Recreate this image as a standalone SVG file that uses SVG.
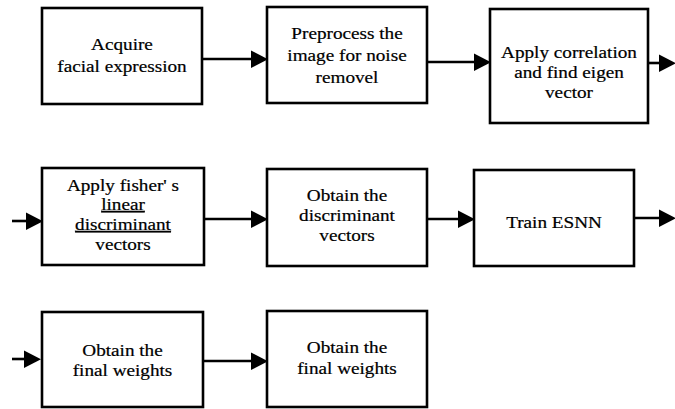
<svg xmlns="http://www.w3.org/2000/svg" width="675" height="409" viewBox="0 0 675 409">
<style>
.box{fill:#fff;stroke:#000;stroke-width:2.6}
.t{font-family:'Liberation Serif','Times New Roman',serif;font-size:16px;fill:#000;stroke:#000;stroke-width:0.2;text-anchor:middle}
.c{fill:none;stroke:#000;stroke-width:2.6}
.u{text-decoration:underline}
</style>
<defs>
<marker id="ah" markerUnits="userSpaceOnUse" markerWidth="17" markerHeight="18" refX="8" refY="8.5" orient="auto" overflow="visible">
<path d="M0,0 L17,8.75 L0,17.5 z" fill="#000"/>
</marker>
</defs>
<rect width="675" height="409" fill="#fff"/>
<g id="connectors">
<line class="c" x1="202" y1="59" x2="259" y2="59" marker-end="url(#ah)"/>
<line class="c" x1="427" y1="62" x2="482" y2="62" marker-end="url(#ah)"/>
<line class="c" x1="648" y1="63" x2="667" y2="63" marker-end="url(#ah)"/>
<line class="c" x1="12" y1="221" x2="34" y2="221" marker-end="url(#ah)"/>
<line class="c" x1="204" y1="219" x2="259" y2="219" marker-end="url(#ah)"/>
<line class="c" x1="427" y1="219" x2="466" y2="219" marker-end="url(#ah)"/>
<line class="c" x1="634" y1="218" x2="667" y2="218" marker-end="url(#ah)"/>
<line class="c" x1="12" y1="359" x2="32" y2="359" marker-end="url(#ah)"/>
<line class="c" x1="203" y1="361" x2="259" y2="361" marker-end="url(#ah)"/>
</g>
<g id="n1">
<rect class="box" x="42" y="8" width="160" height="96"/>
<text class="t" transform="matrix(1.2 0 0 1 122 0)"><tspan x="0" y="50">Acquire</tspan><tspan x="0" y="72">facial expression</tspan></text>
</g>
<g id="n2">
<rect class="box" x="267" y="7" width="160" height="96"/>
<text class="t" transform="matrix(1.2 0 0 1 347 0)"><tspan x="0" y="39">Preprocess the</tspan><tspan x="0" y="61">image for noise</tspan><tspan x="0" y="83">removel</tspan></text>
</g>
<g id="n3">
<rect class="box" x="490" y="9" width="158" height="114"/>
<text class="t" transform="matrix(1.2 0 0 1 569 0)"><tspan x="0" y="58">Apply correlation</tspan><tspan x="0" y="78">and find eigen</tspan><tspan x="0" y="98">vector</tspan></text>
</g>
<g id="n4">
<rect class="box" x="42" y="168" width="162" height="97"/>
<text class="t" transform="matrix(1.2 0 0 1 123 0)"><tspan x="0" y="191">Apply fisher' s</tspan><tspan x="0" y="210" class="u">linear</tspan><tspan x="0" y="230" class="u">discriminant</tspan><tspan x="0" y="250">vectors</tspan></text>
</g>
<g id="n5">
<rect class="box" x="267" y="169" width="160" height="97"/>
<text class="t" transform="matrix(1.2 0 0 1 347 0)"><tspan x="0" y="201">Obtain the</tspan><tspan x="0" y="221">discriminant</tspan><tspan x="0" y="241">vectors</tspan></text>
</g>
<g id="n6">
<rect class="box" x="474" y="170" width="160" height="96"/>
<text class="t" transform="matrix(1.2 0 0 1 554 0)"><tspan x="0" y="228">Train ESNN</tspan></text>
</g>
<g id="n7">
<rect class="box" x="42" y="312" width="161" height="95"/>
<text class="t" transform="matrix(1.2 0 0 1 122.5 0)"><tspan x="0" y="356">Obtain the</tspan><tspan x="0" y="376">final weights</tspan></text>
</g>
<g id="n8">
<rect class="box" x="267" y="311" width="160" height="96"/>
<text class="t" transform="matrix(1.2 0 0 1 347 0)"><tspan x="0" y="353">Obtain the</tspan><tspan x="0" y="374">final weights</tspan></text>
</g>
</svg>
